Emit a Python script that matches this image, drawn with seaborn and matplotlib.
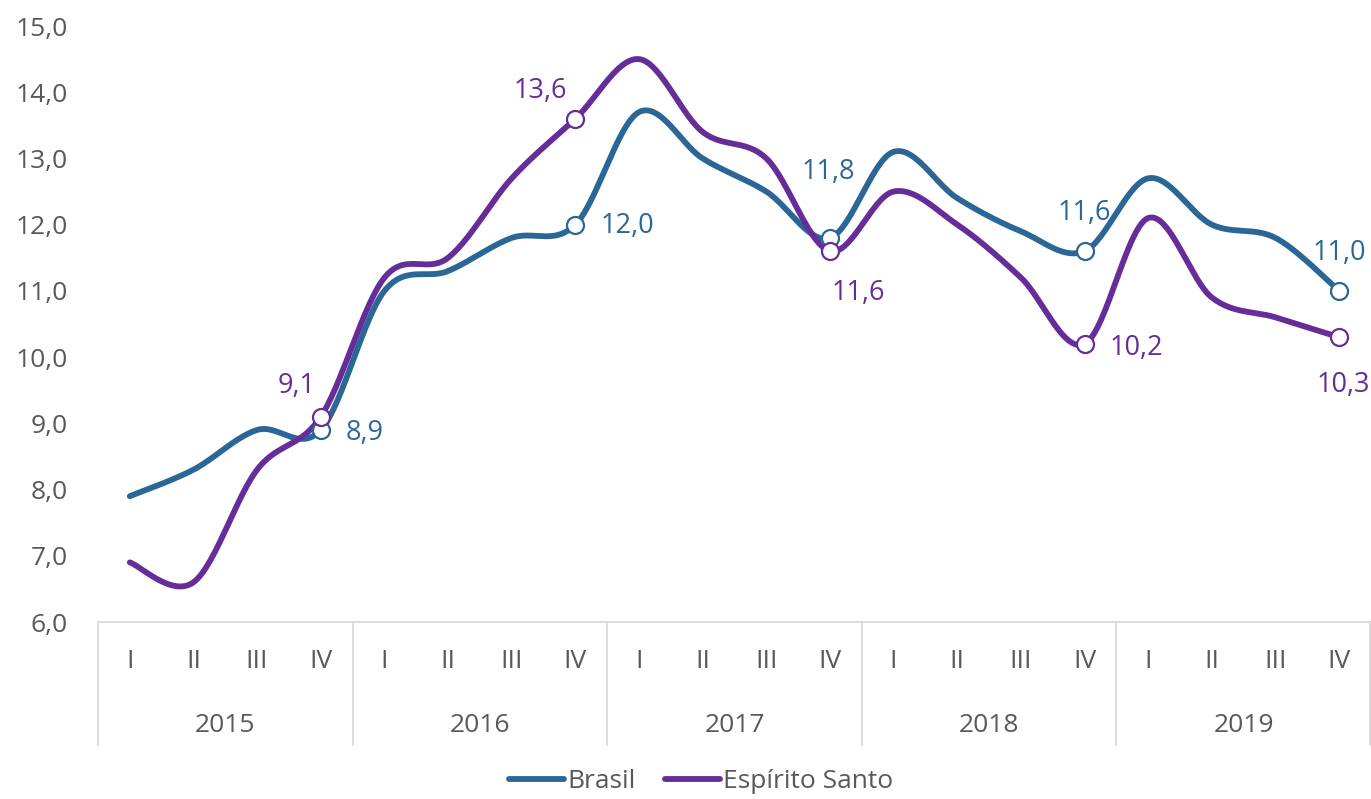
import numpy as np
import pandas as pd
import matplotlib
matplotlib.use("Agg")
import matplotlib.pyplot as plt
import matplotlib.transforms as mtransforms
from matplotlib.lines import Line2D
import seaborn as sns

years = ["2015", "2016", "2017", "2018", "2019"]
quarters = ["I", "II", "III", "IV"]
brasil = [7.9, 8.3, 8.9, 8.9, 11.0, 11.3, 11.8, 12.0, 13.7, 13.0, 12.5, 11.8,
          13.1, 12.4, 11.9, 11.6, 12.7, 12.0, 11.8, 11.0]
espirito_santo = [6.9, 6.6, 8.3, 9.1, 11.2, 11.5, 12.7, 13.6, 14.5, 13.4, 13.0, 11.6,
                  12.5, 12.0, 11.2, 10.2, 12.1, 10.9, 10.6, 10.3]
yticks = [6, 7, 8, 9, 10, 11, 12, 13, 14, 15]

BLUE = "#2B6796"
PURPLE = "#662D99"
GREY = "#595959"
LINEC = "#D9D9D9"

sns.set_theme(style="white")
plt.rcParams['font.family'] = ['Open Sans', 'DejaVu Sans']


def smooth(y, n=30):
    # Bezier rendering of Excel-style smoothed line (display only)
    x = np.arange(len(y), dtype=float)
    y = np.asarray(y, dtype=float)
    P = np.column_stack([x, y])
    out = []
    for i in range(len(P) - 1):
        p0 = P[i - 1] if i > 0 else P[i]
        p1, p2 = P[i], P[i + 1]
        p3 = P[i + 2] if i + 2 < len(P) else P[i + 1]
        c1 = p1 + (p2 - p0) / 6.0
        c2 = p2 - (p3 - p1) / 6.0
        t = np.linspace(0, 1, n, endpoint=(i == len(P) - 2))[:, None]
        seg = ((1 - t) ** 3) * p1 + 3 * ((1 - t) ** 2) * t * c1 + 3 * (1 - t) * t ** 2 * c2 + t ** 3 * p2
        out.append(seg)
    arr = np.vstack(out)
    return arr[:, 0], arr[:, 1]


fig = plt.figure(figsize=(13.71, 7.99), dpi=100)
ax = fig.add_axes([98 / 1371, 1 - 622 / 799, (1371 - 98) / 1371, (622 - 26) / 799])

for vals, col in [(brasil, BLUE), (espirito_santo, PURPLE)]:
    sx, sy = smooth(vals)
    df = pd.DataFrame({"x": sx, "y": sy})
    sns.lineplot(data=df, x="x", y="y", sort=False, color=col, lw=4.2, ax=ax,
                 solid_capstyle="round", solid_joinstyle="round")

idx = np.arange(3, 20, 4)
for vals, col in [(brasil, BLUE), (espirito_santo, PURPLE)]:
    ax.scatter(idx, np.asarray(vals)[idx], s=150, facecolor="white", edgecolor=col,
               linewidth=1.6, zorder=5)

# data labels: (dx, dy, ha) in pixels
fs = 19.5
b_off = [(25, -3, "left"), (25, -1, "left"), (-2, 66, "center"), (0, 38, "center"), (0, 38, "center")]
e_off = [(-24, 31, "center"), (-35, 28, "center"), (28, -42, "center"), (25, -4, "left"), (4, -48, "center")]

for k, i in enumerate(idx):
    for vals, offs, col in [(brasil, b_off, BLUE), (espirito_santo, e_off, PURPLE)]:
        dx, dy, ha = offs[k]
        txt = f"{vals[i]:.1f}".replace(".", ",")
        ax.annotate(txt, (i, vals[i]), xytext=(dx, dy), textcoords="offset pixels",
                    ha=ha, va="center", color=col, fontsize=fs, annotation_clip=False)

ax.set_xlim(-0.5, 19.5)
ax.set_ylim(6, 15)
ax.set_yticks(yticks)
ax.set_yticklabels([f"{v:.1f}".replace(".", ",") for v in yticks], color=GREY, fontsize=19)
ax.tick_params(axis="y", length=0, pad=22)
ax.set_xticks([])
ax.set_xlabel("")
ax.set_ylabel("")
for s in ["top", "right", "left"]:
    ax.spines[s].set_visible(False)
ax.spines["bottom"].set_color(LINEC)
ax.spines["bottom"].set_linewidth(1.3)

trans = mtransforms.blended_transform_factory(ax.transData, ax.transAxes)
for i in range(20):
    ax.text(i, -40 / 596, quarters[i % 4], transform=trans, ha="center", va="center",
            color=GREY, fontsize=19)
for j, yr in enumerate(years):
    ax.text(j * 4 + 1.5, -104 / 596, yr, transform=trans, ha="center", va="center",
            color=GREY, fontsize=19)
for j in range(6):
    xx = j * 4 - 0.5
    if j == 5:
        xx = 19.49
    ax.plot([xx, xx], [0, -123 / 596], transform=trans, color=LINEC, lw=1.3, clip_on=False)

handles = [Line2D([], [], color=BLUE, lw=4.2, solid_capstyle="round"),
           Line2D([], [], color=PURPLE, lw=4.2, solid_capstyle="round")]
fig.legend(handles, ["Brasil", "Espírito Santo"], loc="center", bbox_to_anchor=(701 / 1371, 1 - 782 / 799),
           ncol=2, frameon=False, fontsize=19, handlelength=2.1, handletextpad=0.12,
           columnspacing=1.1, labelcolor=GREY, borderpad=0.1)

fig.savefig("out.png", dpi=100)
